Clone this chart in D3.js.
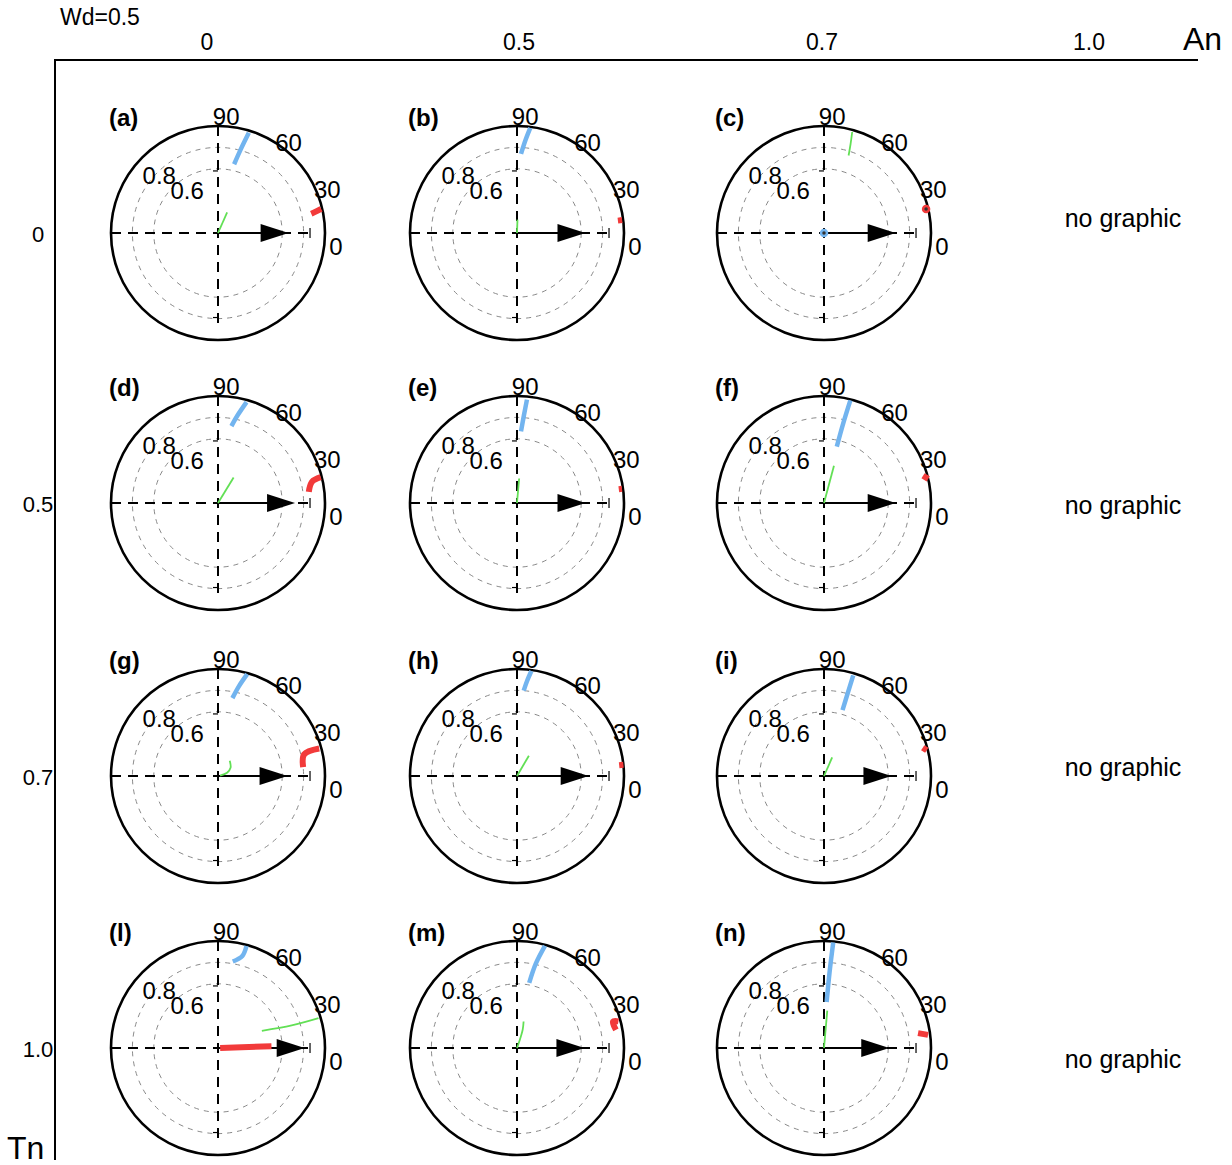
<!DOCTYPE html>
<html>
<head>
<meta charset="utf-8">
<script src="https://cdn.jsdelivr.net/npm/d3@7/dist/d3.min.js"></script>
<style>
  html, body { margin: 0; padding: 0; background: #fff; }
  svg { display: block; font-family: Arial, "Liberation Sans", Helvetica, sans-serif; }
</style>
</head>
<body>
<svg id="chart" width="1232" height="1165"></svg>
<script>
// Header / grid labels
const colLabels = ["0", "0.5", "0.7", "1.0"];
const rowLabels = ["0", "0.5", "0.7", "1.0"];
const panelLetters = ["a", "b", "c", "d", "e", "f", "g", "h", "i", "l", "m", "n"];

// Mean direction arrow length (radial units) for each panel
const arrowLengths = [0.66, 0.64, 0.67, 0.72, 0.64, 0.67, 0.65, 0.67, 0.63, 0.81, 0.63, 0.61];

// Curves given as [angle in degrees (ccw from east), radius] pairs
const blueCurves = [
  [[72.9, 0.98], [74.8, 0.81], [76.8, 0.66]],
  [[82.8, 0.99], [84.8, 0.87], [87.1, 0.74]],
  [[0, 0]],
  [[74.2, 0.98], [77.4, 0.84], [80.1, 0.73]],
  [[84.5, 0.97], [85.5, 0.82], [86.8, 0.67]],
  [[75.6, 0.99], [76.4, 0.77], [77.2, 0.54]],
  [[74.0, 0.99], [76.9, 0.86], [79.5, 0.74]],
  [[82.2, 0.99], [84.0, 0.89], [85.5, 0.80]],
  [[73.8, 0.98], [74.0, 0.81], [74.3, 0.64]],
  [[74.4, 0.99], [75.2, 0.89], [80.3, 0.82]],
  [[74.7, 0.99], [77.4, 0.81], [79.4, 0.62]],
  [[85.0, 0.99], [85.8, 0.71], [86.7, 0.43]]
];
const redCurves = [
  [[13.2, 0.99], [12.4, 0.94], [11.7, 0.89]],
  [[7.0, 0.99], [7.0, 0.95]],
  [[13.2, 0.98]],
  [[14.1, 0.99], [12.7, 0.90], [7.0, 0.855]],
  [[7.7, 0.99], [7.7, 0.96]],
  [[13.0, 1.0], [15.4, 0.96]],
  [[15.2, 0.98], [14.1, 0.83], [6.0, 0.80]],
  [[6.0, 1.0], [6.0, 0.96]],
  [[14.0, 0.99], [16.0, 0.96]],
  [[0.5, 0.02], [2.0, 0.5]],
  [[14.7, 0.98], [15.4, 0.93], [10.4, 0.94]],
  [[7.2, 0.98], [9.0, 0.89]]
];
const greenCurves = [
  [[66, 0], [66, 0.21]],
  [[88, 0], [88, 0.125]],
  [[74.4, 0.98], [73.4, 0.87], [72.4, 0.76]],
  [[58.6, 0], [58.6, 0.28]],
  [[85, 0], [85, 0.23]],
  [[75, 0], [75, 0.36]],
  [[10, 0.02], [19.6, 0.09], [33, 0.14], [52.5, 0.18]],
  [[59.7, 0], [59.7, 0.22]],
  [[66.3, 0], [66.3, 0.19]],
  [[21.3, 0.44], [17, 0.72], [16.5, 0.98]],
  [[70.7, 0], [70.7, 0.066], [72.8, 0.18], [76, 0.255]],
  [[85, 0], [85, 0.35]]
];

// Layout
const colX = [218, 517, 824];
const rowY = [233, 503, 776, 1048];
const noGraphicY = [219, 506, 768, 1060];
const R = 107;

const svg = d3.select("#chart");

// Grid frame
svg.append("line").attr("x1", 55).attr("y1", 60).attr("x2", 1198).attr("y2", 60)
  .attr("stroke", "#000").attr("stroke-width", 2);
svg.append("line").attr("x1", 55).attr("y1", 59).attr("x2", 55).attr("y2", 1160)
  .attr("stroke", "#000").attr("stroke-width", 2);

svg.append("text").attr("x", 60).attr("y", 25).attr("font-size", 23).text("Wd=0.5");
const colTextX = [207, 519, 822, 1089];
colLabels.forEach((t, i) => {
  svg.append("text").attr("x", colTextX[i]).attr("y", 50).attr("text-anchor", "middle")
    .attr("font-size", 23).text(t);
});
svg.append("text").attr("x", 1183).attr("y", 50).attr("font-size", 32).text("An");

rowLabels.forEach((t, i) => {
  svg.append("text").attr("x", 38).attr("y", rowY[i] + 9).attr("text-anchor", "middle")
    .attr("font-size", 22).text(t);
  svg.append("text").attr("x", 1123).attr("y", noGraphicY[i] + 8)
    .attr("text-anchor", "middle").attr("font-size", 25).text("no graphic");
});
svg.append("text").attr("x", 7).attr("y", 1159).attr("font-size", 32).text("Tn");

// Polar scales
const rScale = d3.scaleLinear().domain([0, 1]).range([0, R]);
const aScale = d3.scaleLinear().domain([0, 360]).range([Math.PI / 2, Math.PI / 2 - 2 * Math.PI]);
const radial = d3.lineRadial()
  .angle(d => aScale(d[0]))
  .radius(d => rScale(d[1]))
  .curve(d3.curveCatmullRom);
const px = (deg, r) => rScale(r) * Math.cos(deg * Math.PI / 180);
const py = (deg, r) => -rScale(r) * Math.sin(deg * Math.PI / 180);

// Angle / radius label placement
const angleLabels = [
  { t: "90", a: 86, r: 1.09 },
  { t: "60", a: 52, r: 1.07 },
  { t: "30", a: 21.8, r: 1.1 },
  { t: "0", a: -6.3, r: 1.11 },
  { t: "0.8", a: 135.5, r: 0.77 },
  { t: "0.6", a: 126, r: 0.49 }
];

function drawCurve(g, pts, color, width) {
  if (pts.length === 1) {
    g.append("circle")
      .attr("cx", px(pts[0][0], pts[0][1])).attr("cy", py(pts[0][0], pts[0][1]))
      .attr("r", 3).attr("fill", "#333").attr("stroke", color).attr("stroke-width", 2.5);
  } else {
    g.append("path").attr("d", radial(pts)).attr("fill", "none")
      .attr("stroke", color).attr("stroke-width", width).attr("stroke-linecap", "butt");
  }
}

panelLetters.forEach((letter, i) => {
  const col = i % 3, row = Math.floor(i / 3);
  const g = svg.append("g").attr("transform", `translate(${colX[col]},${rowY[row]})`);

  // Dashed rings
  [0.6, 0.8].forEach(v => {
    g.append("circle").attr("r", rScale(v)).attr("fill", "none")
      .attr("stroke", "#8a8a8a").attr("stroke-width", 1).attr("stroke-dasharray", "5,5");
  });

  // Crosshair
  g.append("line").attr("x1", px(180, 1)).attr("y1", 0).attr("x2", px(0, 0.86)).attr("y2", 0)
    .attr("stroke", "#000").attr("stroke-width", 2).attr("stroke-dasharray", "10,7");
  g.append("line").attr("x1", 0).attr("y1", py(90, 1)).attr("x2", 0).attr("y2", py(270, 0.84))
    .attr("stroke", "#000").attr("stroke-width", 2).attr("stroke-dasharray", "10,7");
  // small end ticks
  g.append("line").attr("x1", px(0, 0.86)).attr("y1", -5).attr("x2", px(0, 0.86)).attr("y2", 5)
    .attr("stroke", "#000").attr("stroke-width", 1.2);
  g.append("line").attr("x1", -5).attr("y1", py(270, 0.79)).attr("x2", 0).attr("y2", py(270, 0.79))
    .attr("stroke", "#000").attr("stroke-width", 1.2);
  g.append("line").attr("x1", -5).attr("y1", py(90, 0.58)).attr("x2", 0).attr("y2", py(90, 0.58))
    .attr("stroke", "#000").attr("stroke-width", 1.2);

  // Outer circle
  g.append("circle").attr("r", rScale(1)).attr("fill", "none")
    .attr("stroke", "#000").attr("stroke-width", 2.6);

  // Labels
  angleLabels.forEach(l => {
    g.append("text").attr("x", px(l.a, l.r)).attr("y", py(l.a, l.r))
      .attr("text-anchor", "middle").attr("dominant-baseline", "central")
      .attr("font-size", 24).text(l.t);
  });
  g.append("text").attr("x", -R - 2).attr("y", -R + 0).attr("font-size", 24)
    .attr("font-weight", "bold").text(`(${letter})`);

  // Mean arrow
  const L = rScale(arrowLengths[i]);
  const headLen = 28, headHalf = 9;
  g.append("line").attr("x1", 0).attr("y1", 0).attr("x2", L - headLen + 2).attr("y2", 0)
    .attr("stroke", "#000").attr("stroke-width", 2);
  g.append("path")
    .attr("d", `M${L},0 L${L - headLen},${-headHalf} L${L - headLen},${headHalf} Z`)
    .attr("fill", "#000");

  // Curves
  drawCurve(g, greenCurves[i], "#62e055", 1.8);
  drawCurve(g, blueCurves[i], "#72b4ef", 4.5);
  drawCurve(g, redCurves[i], "#f23a3a", 6);
});
</script>
</body>
</html>
